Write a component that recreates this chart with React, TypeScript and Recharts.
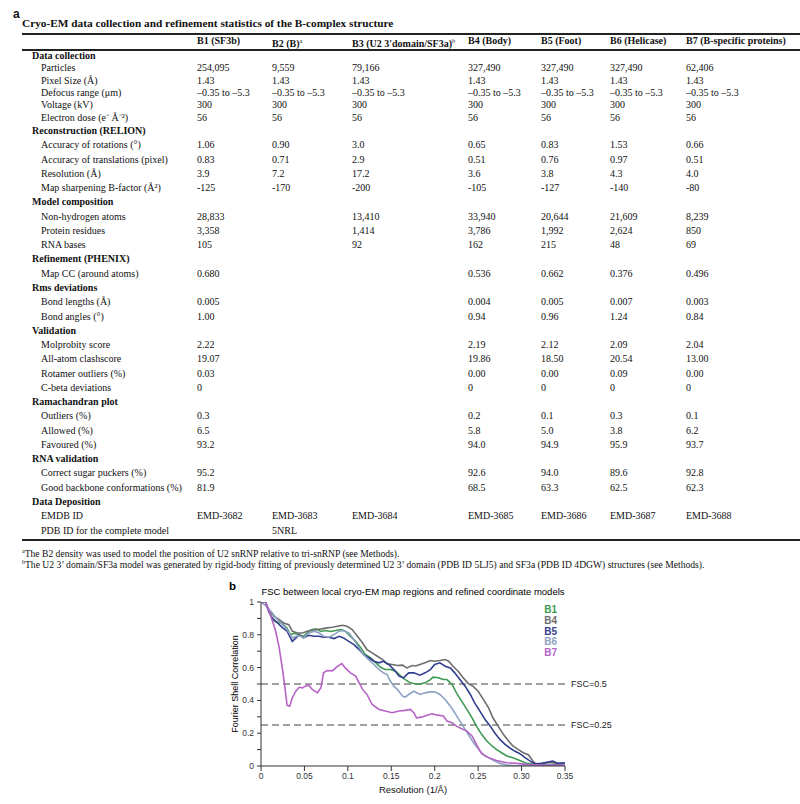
import React from "react";
import {
  LineChart,
  Line,
  XAxis,
  YAxis,
  ReferenceLine,
} from "recharts";

// ---- table data ----
const columnTitles = [
  "B1 (SF3b)",
  "B2 (B)",
  "B3 (U2 3'domain/SF3a)",
  "B4 (Body)",
  "B5 (Foot)",
  "B6 (Helicase)",
  "B7 (B-specific proteins)",
];
const columnNotes = ["", "a", "b", "", "", "", ""];

const dataCollection = [
  ["Particles", "254,095", "9,559", "79,166", "327,490", "327,490", "327,490", "62,406"],
  ["Pixel Size (Å)", "1.43", "1.43", "1.43", "1.43", "1.43", "1.43", "1.43"],
  ["Defocus range (μm)", "–0.35 to –5.3", "–0.35 to –5.3", "–0.35 to –5.3", "–0.35 to –5.3", "–0.35 to –5.3", "–0.35 to –5.3", "–0.35 to –5.3"],
  ["Voltage (kV)", "300", "300", "300", "300", "300", "300", "300"],
  ["Electron dose (e⁻ Å⁻²)", "56", "56", "56", "56", "56", "56", "56"],
];
const reconstruction = [
  ["Accuracy of rotations (°)", "1.06", "0.90", "3.0", "0.65", "0.83", "1.53", "0.66"],
  ["Accuracy of translations (pixel)", "0.83", "0.71", "2.9", "0.51", "0.76", "0.97", "0.51"],
  ["Resolution (Å)", "3.9", "7.2", "17.2", "3.6", "3.8", "4.3", "4.0"],
  ["Map sharpening B-factor (Å²)", "-125", "-170", "-200", "-105", "-127", "-140", "-80"],
];
const modelComposition = [
  ["Non-hydrogen atoms", "28,833", "", "13,410", "33,940", "20,644", "21,609", "8,239"],
  ["Protein residues", "3,358", "", "1,414", "3,786", "1,992", "2,624", "850"],
  ["RNA bases", "105", "", "92", "162", "215", "48", "69"],
];
const refinement = [
  ["Map CC (around atoms)", "0.680", "", "", "0.536", "0.662", "0.376", "0.496"],
];
const rmsDeviations = [
  ["Bond lengths (Å)", "0.005", "", "", "0.004", "0.005", "0.007", "0.003"],
  ["Bond angles (°)", "1.00", "", "", "0.94", "0.96", "1.24", "0.84"],
];
const validation = [
  ["Molprobity score", "2.22", "", "", "2.19", "2.12", "2.09", "2.04"],
  ["All-atom clashscore", "19.07", "", "", "19.86", "18.50", "20.54", "13.00"],
  ["Rotamer outliers (%)", "0.03", "", "", "0.00", "0.00", "0.09", "0.00"],
  ["C-beta deviations", "0", "", "", "0", "0", "0", "0"],
];
const ramachandran = [
  ["Outliers (%)", "0.3", "", "", "0.2", "0.1", "0.3", "0.1"],
  ["Allowed (%)", "6.5", "", "", "5.8", "5.0", "3.8", "6.2"],
  ["Favoured (%)", "93.2", "", "", "94.0", "94.9", "95.9", "93.7"],
];
const rnaValidation = [
  ["Correct sugar puckers (%)", "95.2", "", "", "92.6", "94.0", "89.6", "92.8"],
  ["Good backbone conformations (%)", "81.9", "", "", "68.5", "63.3", "62.5", "62.3"],
];
const dataDeposition = [
  ["EMDB ID", "EMD-3682", "EMD-3683", "EMD-3684", "EMD-3685", "EMD-3686", "EMD-3687", "EMD-3688"],
  ["PDB ID for the complete model", "", "5NRL", "", "", "", "", ""],
];

const sections: [string, string[][]][] = [
  ["Data collection", dataCollection],
  ["Reconstruction (RELION)", reconstruction],
  ["Model composition", modelComposition],
  ["Refinement (PHENIX)", refinement],
  ["Rms deviations", rmsDeviations],
  ["Validation", validation],
  ["Ramachandran plot", ramachandran],
  ["RNA validation", rnaValidation],
  ["Data Deposition", dataDeposition],
];

const footnoteA = "The B2 density was used to model the position of U2 snRNP relative to tri-snRNP (see Methods).";
const footnoteB =
  "The U2 3’ domain/SF3a model was generated by rigid-body fitting of previously determined U2 3’ domain (PDB ID 5LJ5) and SF3a (PDB ID 4DGW) structures (see Methods).";

// ---- FSC curves: [resolution (1/Å), FSC] ----
const b1 = [
  [0, 1], [0.005, 1], [0.009, 0.95], [0.013, 0.89], [0.017, 0.88], [0.023, 0.87], [0.026, 0.86], [0.03, 0.84],
  [0.034, 0.8], [0.038, 0.81], [0.044, 0.8], [0.049, 0.79], [0.053, 0.81], [0.057, 0.83], [0.063, 0.836],
  [0.069, 0.82], [0.074, 0.826], [0.08, 0.82], [0.086, 0.826], [0.092, 0.832], [0.097, 0.822], [0.103, 0.79],
  [0.109, 0.76], [0.115, 0.72], [0.12, 0.68], [0.126, 0.66], [0.132, 0.63], [0.138, 0.6], [0.143, 0.588],
  [0.149, 0.588], [0.155, 0.578], [0.161, 0.548], [0.166, 0.527], [0.172, 0.507], [0.178, 0.5], [0.183, 0.5],
  [0.189, 0.507], [0.195, 0.527], [0.198, 0.542], [0.204, 0.538], [0.21, 0.527], [0.214, 0.527], [0.22, 0.497],
  [0.225, 0.446], [0.231, 0.396], [0.237, 0.345], [0.243, 0.294], [0.248, 0.243], [0.254, 0.193], [0.26, 0.152],
  [0.266, 0.122], [0.271, 0.101], [0.277, 0.081], [0.283, 0.061], [0.29, 0.051], [0.298, 0.034], [0.306, 0.016],
  [0.317, 0.01], [0.333, 0.01], [0.35, 0.01],
];
const b4 = [
  [0, 1], [0.005, 1], [0.009, 0.953], [0.015, 0.913], [0.021, 0.892], [0.026, 0.872], [0.032, 0.862], [0.036, 0.822],
  [0.042, 0.811], [0.048, 0.811], [0.053, 0.822], [0.059, 0.826], [0.065, 0.832], [0.07, 0.836], [0.076, 0.842],
  [0.082, 0.846], [0.088, 0.852], [0.094, 0.858], [0.099, 0.852], [0.105, 0.832], [0.111, 0.791], [0.117, 0.75],
  [0.122, 0.71], [0.128, 0.69], [0.134, 0.669], [0.14, 0.649], [0.145, 0.623], [0.151, 0.619], [0.157, 0.613],
  [0.163, 0.615], [0.168, 0.598], [0.174, 0.613], [0.178, 0.61], [0.183, 0.619], [0.189, 0.629], [0.195, 0.643],
  [0.2, 0.639], [0.206, 0.643], [0.212, 0.649], [0.216, 0.639], [0.221, 0.608], [0.227, 0.578], [0.233, 0.537],
  [0.239, 0.501], [0.244, 0.487], [0.25, 0.456], [0.256, 0.406], [0.262, 0.355], [0.267, 0.294], [0.273, 0.243],
  [0.279, 0.193], [0.285, 0.152], [0.29, 0.122], [0.296, 0.101], [0.302, 0.081], [0.308, 0.067], [0.313, 0.03],
  [0.317, 0.01], [0.325, 0.016], [0.333, 0.024], [0.34, 0.016], [0.35, 0.014],
];
const b5 = [
  [0, 1], [0.005, 1], [0.009, 0.94], [0.013, 0.903], [0.019, 0.872], [0.025, 0.842], [0.03, 0.822], [0.036, 0.76],
  [0.04, 0.78], [0.044, 0.8], [0.049, 0.781], [0.055, 0.797], [0.061, 0.791], [0.067, 0.791], [0.072, 0.785],
  [0.078, 0.785], [0.084, 0.777], [0.09, 0.791], [0.095, 0.781], [0.101, 0.76], [0.107, 0.74], [0.113, 0.71],
  [0.118, 0.68], [0.124, 0.66], [0.13, 0.639], [0.136, 0.629], [0.141, 0.639], [0.147, 0.619], [0.153, 0.588],
  [0.159, 0.548], [0.164, 0.537], [0.17, 0.568], [0.176, 0.568], [0.183, 0.554], [0.189, 0.568], [0.195, 0.588],
  [0.2, 0.619], [0.206, 0.629], [0.212, 0.608], [0.218, 0.598], [0.223, 0.568], [0.229, 0.527], [0.235, 0.487],
  [0.241, 0.436], [0.246, 0.385], [0.252, 0.335], [0.258, 0.284], [0.264, 0.243], [0.269, 0.203], [0.275, 0.162],
  [0.281, 0.132], [0.287, 0.108], [0.292, 0.091], [0.298, 0.075], [0.304, 0.051], [0.31, 0.03], [0.315, 0.014],
  [0.323, 0.016], [0.336, 0.03], [0.342, 0.016], [0.35, 0.02],
];
const b6 = [
  [0, 1], [0.007, 0.97], [0.013, 0.933], [0.019, 0.892], [0.025, 0.862], [0.03, 0.832], [0.036, 0.781], [0.04, 0.79],
  [0.044, 0.795], [0.049, 0.781], [0.055, 0.811], [0.061, 0.822], [0.067, 0.811], [0.072, 0.791], [0.078, 0.785],
  [0.084, 0.801], [0.09, 0.822], [0.095, 0.826], [0.101, 0.811], [0.107, 0.771], [0.113, 0.72], [0.118, 0.68],
  [0.124, 0.649], [0.13, 0.619], [0.136, 0.588], [0.141, 0.568], [0.145, 0.558], [0.149, 0.517], [0.153, 0.487],
  [0.157, 0.467], [0.163, 0.426], [0.166, 0.42], [0.17, 0.436], [0.176, 0.456], [0.183, 0.436], [0.189, 0.446],
  [0.195, 0.452], [0.2, 0.452], [0.206, 0.436], [0.212, 0.406], [0.218, 0.365], [0.223, 0.325], [0.229, 0.274],
  [0.235, 0.223], [0.241, 0.172], [0.246, 0.132], [0.252, 0.091], [0.258, 0.061], [0.264, 0.045], [0.269, 0.03],
  [0.275, 0.016], [0.283, 0.006], [0.294, 0], [0.306, 0.006], [0.317, 0], [0.333, 0.01], [0.34, 0], [0.35, 0.01],
];
const b7 = [
  [0, 1], [0.005, 1], [0.011, 0.92], [0.017, 0.82], [0.021, 0.72], [0.025, 0.58], [0.028, 0.46], [0.03, 0.37],
  [0.033, 0.365], [0.036, 0.415], [0.04, 0.456], [0.044, 0.48], [0.048, 0.476], [0.051, 0.487], [0.055, 0.493],
  [0.059, 0.467], [0.065, 0.446], [0.069, 0.477], [0.072, 0.568], [0.076, 0.582], [0.082, 0.58], [0.088, 0.608],
  [0.093, 0.625], [0.097, 0.598], [0.103, 0.568], [0.109, 0.548], [0.113, 0.507], [0.117, 0.467], [0.122, 0.436],
  [0.128, 0.375], [0.136, 0.345], [0.143, 0.335], [0.151, 0.325], [0.159, 0.335], [0.166, 0.339], [0.172, 0.345],
  [0.176, 0.325], [0.179, 0.294], [0.185, 0.298], [0.191, 0.31], [0.197, 0.318], [0.204, 0.31], [0.21, 0.305],
  [0.214, 0.274], [0.22, 0.264], [0.225, 0.243], [0.231, 0.227], [0.237, 0.213], [0.243, 0.183], [0.248, 0.132],
  [0.254, 0.075], [0.262, 0.051], [0.271, 0.034], [0.283, 0.02], [0.294, 0.016], [0.306, 0.01], [0.325, 0.004],
  [0.35, 0.006],
];

const seriesNames = ["B1", "B4", "B5", "B6", "B7"];
const seriesPoints = [b1, b4, b5, b6, b7];
const seriesColors = ["#3f9a52", "#6d6d6d", "#323f8e", "#8da2c2", "#b663c6"];

const xTicks = [0, 0.05, 0.1, 0.15, 0.2, 0.25, 0.3, 0.35];
const xTickLabels = ["0", "0.05", "0.1", "0.15", "0.2", "0.25", "0.30", "0.35"];
const yTicks = [0, 0.1, 0.2, 0.3, 0.4, 0.5, 0.6, 0.7, 0.8, 0.9, 1];
const yTickLabels = ["0", "", "0.2", "", "0.4", "", "0.6", "", "0.8", "", "1"];
const thresholds = [0.5, 0.25];
const thresholdLabels = ["FSC=0.5", "FSC=0.25"];

const colX = [197, 272, 352, 468, 541, 610, 686];
const serif = "'Liberation Serif', 'Times New Roman', serif";
const sans = "'Liberation Sans', Arial, sans-serif";

function Cell({ x, y, children, bold, size = 10 }: any) {
  return (
    <div
      style={{
        position: "absolute",
        left: x,
        top: y - 7,
        height: 14,
        lineHeight: "14px",
        fontSize: size,
        fontWeight: bold ? "bold" : "normal",
        whiteSpace: "nowrap",
      }}
    >
      {children}
    </div>
  );
}

function Rule({ y }: { y: number }) {
  return (
    <div style={{ position: "absolute", left: 22, width: 778, top: y - 1, height: 2, background: "#222" }} />
  );
}

function StatsTable() {
  const cells: React.ReactNode[] = [];
  let y = 56;
  sections.forEach(([title, rows], si) => {
    const step = si === 0 ? 12.3 : 14.27;
    if (si === 1) y = 131;
    cells.push(
      <Cell key={"s" + si} x={32} y={y} bold>
        {title}
      </Cell>
    );
    y += step;
    rows.forEach((row, ri) => {
      cells.push(
        <Cell key={`r${si}-${ri}`} x={41} y={y}>
          {row[0]}
        </Cell>
      );
      row.slice(1).forEach((v, ci) => {
        if (v)
          cells.push(
            <Cell key={`v${si}-${ri}-${ci}`} x={colX[ci]} y={y}>
              {v}
            </Cell>
          );
      });
      y += step;
    });
  });

  return (
    <div style={{ position: "absolute", left: 0, top: 0, width: 800, height: 570, fontFamily: serif, color: "#111" }}>
      <div style={{ position: "absolute", left: 13, top: 7, fontFamily: sans, fontWeight: "bold", fontSize: 12 }}>a</div>
      <Cell x={22} y={23} bold size={11.3}>
        Cryo-EM data collection and refinement statistics of the B-complex structure
      </Cell>
      <Rule y={33.5} />
      {columnTitles.map((t, i) => (
        <Cell key={t} x={colX[i]} y={41} bold>
          {t}
          {columnNotes[i] && <sup style={{ fontSize: 6, fontWeight: "normal" }}>{columnNotes[i]}</sup>}
        </Cell>
      ))}
      <Rule y={49.5} />
      {cells}
      <Rule y={540} />
      <Cell x={22} y={551} size={9.6}>
        <sup style={{ fontSize: 6 }}>a</sup>
        {footnoteA}
      </Cell>
      <Cell x={22} y={562} size={9.6}>
        <sup style={{ fontSize: 6 }}>b</sup>
        {footnoteB}
      </Cell>
    </div>
  );
}

function FscChart() {
  return (
    <div style={{ position: "absolute", left: 225, top: 580, width: 400, height: 224, fontFamily: sans }}>
      <div style={{ position: "absolute", left: 4, top: 0, fontWeight: "bold", fontSize: 11.5 }}>b</div>
      <div
        style={{
          position: "absolute",
          left: 36,
          width: 304,
          top: 6,
          textAlign: "center",
          fontSize: 9.5,
          whiteSpace: "nowrap",
        }}
      >
        FSC between local cryo-EM map regions and refined coordinate models
      </div>
      <div
        style={{
          position: "absolute",
          left: 10 - 60,
          top: 104 - 6,
          width: 120,
          height: 12,
          lineHeight: "12px",
          textAlign: "center",
          fontSize: 9,
          transform: "rotate(-90deg)",
          whiteSpace: "nowrap",
        }}
      >
        Fourier Shell Correlation
      </div>
      <div style={{ position: "absolute", left: 300, width: 32, top: 25, textAlign: "right", fontSize: 10, fontWeight: "bold", lineHeight: "10.8px" }}>
        {seriesNames.map((n, i) => (
          <div key={n} style={{ color: seriesColors[i] }}>
            {n}
          </div>
        ))}
      </div>
      <LineChart width={400} height={224} margin={{ top: 22, right: 60, left: 0, bottom: 0 }}>
        <XAxis
          dataKey="x"
          type="number"
          domain={[0, 0.35]}
          ticks={xTicks}
          tickFormatter={(v: number) => xTickLabels[xTicks.indexOf(v)]}
          height={38}
          stroke="#333"
          tickSize={5}
          tick={{ fontSize: 8.5, fill: "#333", fontFamily: sans }}
          label={{ value: "Resolution (1/Å)", position: "insideBottom", offset: 11, fontSize: 9.5, fill: "#111", fontFamily: sans }}
          allowDataOverflow
        />
        <XAxis xAxisId="top" orientation="top" type="number" domain={[0, 0.35]} height={0} tick={false} tickLine={false} stroke="#555" />
        <YAxis
          type="number"
          domain={[0, 1]}
          ticks={yTicks}
          tickFormatter={(v: number) => yTickLabels[yTicks.indexOf(v)]}
          width={36}
          stroke="#333"
          tickSize={4}
          tickMargin={3}
          tick={{ fontSize: 8.5, fill: "#333", fontFamily: sans }}
          allowDataOverflow
        />
        <YAxis yAxisId="right" orientation="right" domain={[0, 1]} width={0} tick={false} tickLine={false} stroke="#555" />
        {thresholds.map((t, i) => (
          <ReferenceLine
            key={t}
            y={t}
            stroke="#444"
            strokeWidth={1.2}
            strokeDasharray="7 4"
            label={{ value: thresholdLabels[i], position: "right", offset: 6, fontSize: 9, fill: "#222", fontFamily: sans }}
          />
        ))}
        {seriesPoints.map((pts, i) => (
          <Line
            key={seriesNames[i]}
            data={pts.map(([x, y]) => ({ x, y }))}
            dataKey="y"
            type="linear"
            stroke={seriesColors[i]}
            strokeWidth={1.6}
            dot={false}
            isAnimationActive={false}
          />
        ))}
      </LineChart>
    </div>
  );
}

export default function App() {
  return (
    <div style={{ position: "absolute", left: 0, top: 0, width: 800, height: 804, background: "#fff" }}>
      <StatsTable />
      <FscChart />
    </div>
  );
}
